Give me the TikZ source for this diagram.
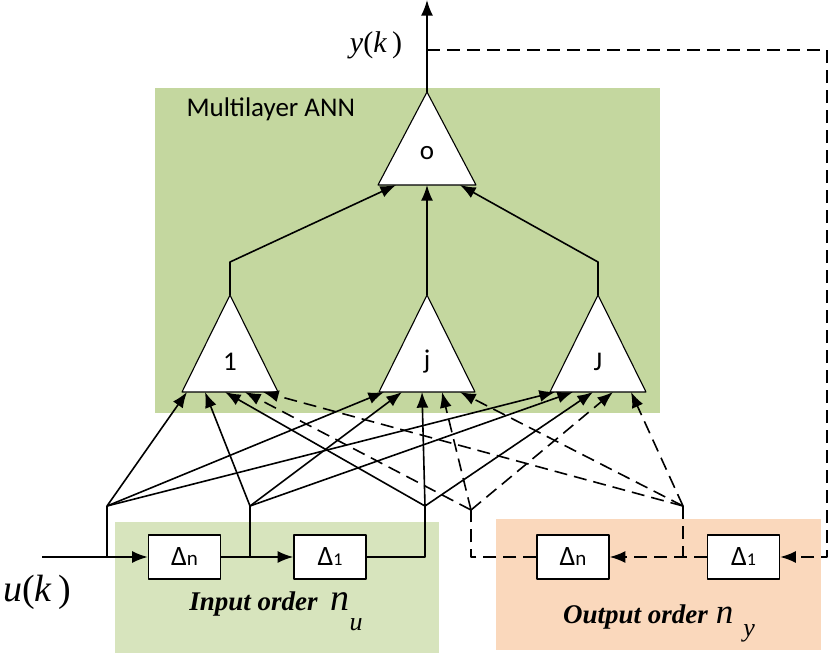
\documentclass[tikz,border=0pt]{standalone}
\usepackage{fontspec}
\setmainfont{Liberation Serif}
\newfontfamily\calib{Carlito}
\usetikzlibrary{arrows.meta,calc}
\definecolor{annGreen}{HTML}{C4D79F}
\definecolor{inGreen}{HTML}{D7E4BD}
\definecolor{outOrange}{HTML}{FAD8BC}
\tikzset{
  wire/.style={line width=1.6pt,-{Latex[length=0.55cm,width=0.42cm]}},
  plainwire/.style={line width=1.6pt},
  fb/.style={line width=1.6pt,-{Latex[length=0.55cm,width=0.42cm]},dash pattern=on 13pt off 7pt},
  plainfb/.style={line width=1.6pt,dash pattern=on 13pt off 7pt},
  neuron/.style={draw,line width=1.1pt,fill=white},
  delay/.style={draw,line width=1.5pt,fill=white,minimum width=72pt,minimum height=44pt,
    inner sep=0pt,font=\calib\fontsize{28}{28}\selectfont},
  lbl/.style={font=\calib\fontsize{27}{27}\selectfont}
}
\begin{document}
\begin{tikzpicture}[x=1pt,y=-1pt,line join=round]
  \useasboundingbox (0,0) rectangle (828,654);
  % Hintergrundflaechen
  \fill[annGreen] (155,88) rectangle (660,413);
  \fill[inGreen] (115,522) rectangle (439,653);
  \fill[outOrange] (496,519) rectangle (821,650);
  \node[lbl,anchor=base west] (title) at (183,116) {Multilayer ANN};
  % Ausgangsneuron
  \draw[neuron] (378,185) -- (427,92) -- (476,185) -- cycle;
  \node[lbl] (o) at (427,153) {o};
  \coordinate (o-top) at (427,92);
  \coordinate (out) at (427,0);
  \coordinate (o-1) at (396,185);
  \coordinate (o-j) at (427,185);
  \coordinate (o-J) at (460,185);
  \draw[wire] (o-top) -- (out);
  \node[font=\fontsize{30}{30}\selectfont] (yk) at (376,45) {\textit{y}(\textit{k}\,)};
  % versteckte Schicht
  \foreach \n/\x/\t in {h1/230/1,hj/427/j,hJ/598/J}{
    \draw[neuron] (\x-48,392) -- (\x,295) -- (\x+48,392) -- cycle;
    \node[lbl] (\n) at (\x,362) {\t};
    \coordinate (\n-top) at (\x,295);
    \foreach \p/\dx in {a/-43,b/-25,c/-5,d/15,e/33}
      \coordinate (\n-\p) at (\x+\dx,392);
  }
  \draw[wire] (h1-top) -- ++(0,-33) -- (o-1);
  \draw[wire] (hj-top) -- (o-j);
  \draw[wire] (hJ-top) -- ++(0,-33) -- (o-J);
  % Verzoegerungsglieder
  \node[delay] (dun) at (184.5,557) {Δ{\fontsize{21}{21}\selectfont n}};
  \node[delay] (du1) at (330,557) {Δ{\fontsize{18}{18}\selectfont 1}};
  \node[delay] (dyn) at (573,557) {Δ{\fontsize{21}{21}\selectfont n}};
  \node[delay] (dy1) at (743.5,557) {Δ{\fontsize{18}{18}\selectfont 1}};
  \coordinate (uin) at (42,557);
  \coordinate (bA) at (107,506);
  \coordinate (bB) at (250,506);
  \coordinate (bC) at (425,506);
  \coordinate (bD) at (471,510);
  \coordinate (bE) at (683,506);
  \coordinate (ytap) at (427,50);
  \coordinate (fbc) at (827,50);
  \node[font=\fontsize{38}{38}\selectfont,anchor=west,inner sep=0pt] (uk) at (3,592) {\textit{u}(\textit{k}\,)};
  % Eingang
  \draw[wire] (uin) -- (dun);
  \draw[wire] (dun) -- (du1);
  \draw[plainwire] (du1) -| (bC);
  \draw[plainwire] (bA) -- (bA |- uin);
  \draw[plainwire] (bB) -- (bB |- dun);
  % Rueckfuehrung
  \draw[fb] (ytap) -- (fbc) |- (dy1);
  \draw[fb] (dy1) -- (dyn);
  \draw[plainfb] (dyn) -| (bD);
  \draw[plainfb] (bE) -- (bE |- dy1);
  \foreach \t in {h1,hj,hJ}{
    \draw[wire] (bA) -- (\t-a);
    \draw[wire] (bB) -- (\t-b);
    \draw[wire] (bC) -- (\t-c);
    \draw[fb] (bD) -- (\t-d);
    \draw[fb] (bE) -- (\t-e);
  }
  \node[anchor=base] (inlbl) at (276,610) {\fontsize{27}{27}\selectfont\bfseries\itshape
    Input order\hspace{13pt}{\mdseries\fontsize{38}{38}\selectfont n}\raisebox{-20pt}{\mdseries\fontsize{26}{26}\selectfont u}};
  \node[anchor=base] (outlbl) at (659,623) {\fontsize{27}{27}\selectfont\bfseries\itshape
    Output order\hspace{8pt}{\mdseries\fontsize{35}{35}\selectfont n}\hspace{10pt}\raisebox{-13pt}{\mdseries\fontsize{26}{26}\selectfont y}};
\end{tikzpicture}
\end{document}
